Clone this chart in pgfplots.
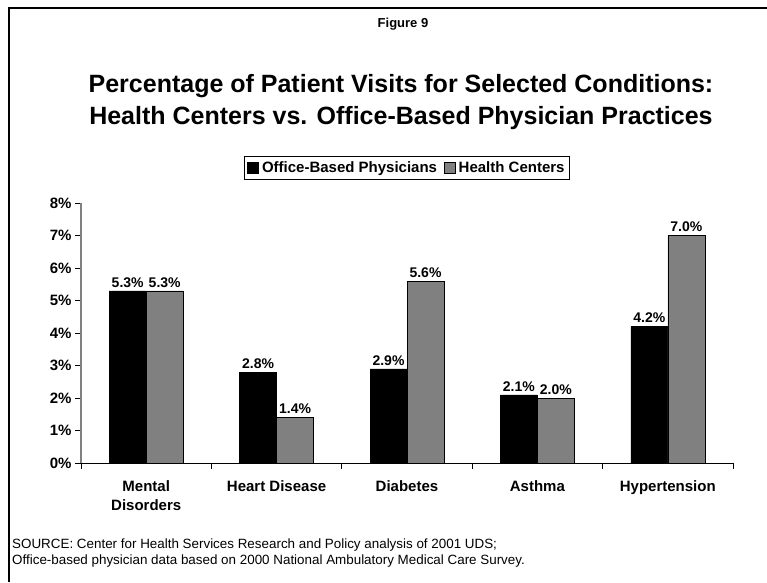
\documentclass[border=0pt]{standalone}
\usepackage{pgfplots}
\pgfplotsset{compat=1.18}
\usepackage{fontspec}
\setmainfont{Liberation Sans}
\definecolor{hcgray}{RGB}{128,128,128}
\begin{document}
\begin{tikzpicture}[x=1pt,y=1pt]
  \useasboundingbox (0,0) rectangle (767,582);
  % frame: top and left edges only
  \draw[black, line width=2pt] (8.5,0) -- (8.5,573.5) -- (767,573.5);
  % headings
  \node[font=\fontsize{13}{15}\selectfont\bfseries] at (403,558) {Figure 9};
  \node[font=\fontsize{25}{32}\selectfont\bfseries, align=center] at (401,480)
    {Percentage of Patient Visits for Selected Conditions:\\Health Centers vs. Office-Based Physician Practices};
  % source note
  \node[font=\fontsize{13.4}{16}\selectfont, align=left, anchor=west, inner sep=0pt] at (12,29)
    {SOURCE: Center for Health Services Research and Policy analysis of 2001 UDS;\\
     Office-based physician data based on 2000 National Ambulatory Medical Care Survey.};
  \begin{axis}[
      at={(81pt,119pt)}, anchor=south west,
      scale only axis, width=652pt, height=260pt,
      ybar=0pt, bar width=37pt,
      xmin=-0.5, xmax=4.5, ymin=0, ymax=8,
      axis x line*=bottom, axis y line*=left,
      x axis line style={black, line width=1pt},
      y axis line style={hcgray, line width=1.4pt},
      tick align=outside,
      major tick length=6pt, minor tick length=6pt,
      xtick={0,...,4},
      xticklabels={{Mental\\Disorders},Heart Disease,Diabetes,Asthma,Hypertension},
      major x tick style={draw=none},
      minor xtick={-0.5,0.5,...,4.5},
      minor x tick style={black, line width=0.8pt},
      xticklabel style={align=center, yshift=-8pt, font=\fontsize{15}{19}\selectfont\bfseries},
      ytick={0,...,8},
      yticklabels={0\%,1\%,2\%,3\%,4\%,5\%,6\%,7\%,8\%},
      yticklabel style={font=\fontsize{15}{17}\selectfont\bfseries},
      major y tick style={black, line width=0.8pt},
      nodes near coords={\pgfmathprintnumber[fixed,fixed zerofill,precision=1]{\pgfplotspointmeta}\%},
      every node near coord/.append style={font=\fontsize{14}{16}\selectfont\bfseries,
        /pgf/number format/assume math mode=true},
      legend columns=2,
      legend style={at={(0.5,1.1346)}, anchor=center, draw=black, line width=0.8pt,
        inner ysep=3pt,
        font=\fontsize{15}{17}\selectfont\bfseries,
        /tikz/every odd column/.append style={column sep=1pt},
        /tikz/every even column/.append style={column sep=5pt}},
      legend image code/.code={\draw[#1, line width=0.6pt] (0pt,-5.5pt) rectangle (11pt,5.5pt);},
    ]
    \addplot[fill=black, draw=black] coordinates {(0,5.3) (1,2.8) (2,2.9) (3,2.1) (4,4.2)};
    \addplot[fill=hcgray, draw=black] coordinates {(0,5.3) (1,1.4) (2,5.6) (3,2.0) (4,7.0)};
    \legend{Office-Based Physicians, Health Centers}
  \end{axis}
\end{tikzpicture}
\end{document}
